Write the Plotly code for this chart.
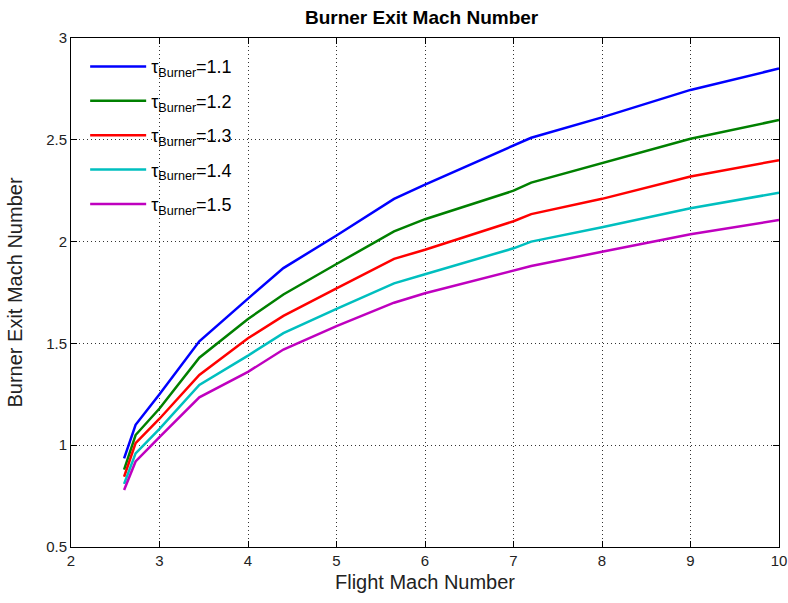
import plotly.graph_objects as go

flight_mach = [2.6, 2.73, 3.0, 3.45, 4.0, 4.4, 5.0, 5.65, 6.0, 7.0, 7.2, 8.0, 9.0, 10.0]

tau_1_1 = [0.935, 1.10, 1.25, 1.51, 1.72, 1.87, 2.03, 2.21, 2.28, 2.47, 2.51, 2.61, 2.745, 2.85]
tau_1_2 = [0.88, 1.05, 1.18, 1.43, 1.62, 1.74, 1.89, 2.05, 2.11, 2.25, 2.29, 2.385, 2.505, 2.597]
tau_1_3 = [0.845, 1.01, 1.13, 1.345, 1.525, 1.635, 1.77, 1.915, 1.96, 2.10, 2.135, 2.21, 2.32, 2.40]
tau_1_4 = [0.81, 0.96, 1.08, 1.296, 1.44, 1.55, 1.67, 1.795, 1.84, 1.967, 2.0, 2.07, 2.164, 2.24]
tau_1_5 = [0.78, 0.92, 1.04, 1.235, 1.36, 1.47, 1.585, 1.70, 1.746, 1.86, 1.88, 1.95, 2.036, 2.106]

series = [tau_1_1, tau_1_2, tau_1_3, tau_1_4, tau_1_5]
labels = ["1.1", "1.2", "1.3", "1.4", "1.5"]
colors = ["#0000FF", "#008000", "#FF0000", "#00BFBF", "#BF00BF"]

x_ticks = [2, 3, 4, 5, 6, 7, 8, 9, 10]
y_ticks = [0.5, 1, 1.5, 2, 2.5, 3]
y_tick_text = ["0.5", "1", "1.5", "2", "2.5", "3"]

FONT = "Liberation Sans, Arial"

fig = go.Figure()
for ys, lab, col in zip(series, labels, colors):
    fig.add_trace(go.Scatter(
        x=flight_mach, y=ys, mode="lines",
        line=dict(color=col, width=2.5),
        name="τ<sub>Burner</sub>=" + lab,
        legendgroup=lab,
    ))

axis_common = dict(
    showline=True, linecolor="black", linewidth=1, mirror="allticks",
    ticks="inside", ticklen=6, tickcolor="black",
    showgrid=True, gridcolor="#333", griddash="1px,3px", gridwidth=1,
    zeroline=False, automargin=False,
    tickfont=dict(family=FONT, size=15, color="#222"),
)

fig.update_layout(
    width=788, height=603,
    margin=dict(l=71, r=9, t=38, b=56),
    paper_bgcolor="white", plot_bgcolor="white",
    title=dict(text="<b>Burner Exit Mach Number</b>", x=0.535, xanchor="center",
               y=0.972, yanchor="middle",
               font=dict(family=FONT, size=19, color="black")),
    xaxis=dict(range=[2, 10], tickvals=x_ticks,
               title=dict(text="Flight Mach Number", standoff=6,
                          font=dict(family=FONT, size=20, color="#222")),
               **axis_common),
    yaxis=dict(range=[0.5, 3], tickvals=y_ticks, ticktext=y_tick_text,
               title=dict(text="Burner Exit Mach Number", standoff=18,
                          font=dict(family=FONT, size=20, color="#222")),
               **axis_common),
    legend=dict(x=0.02, y=0.98, xanchor="left", yanchor="top",
                bgcolor="rgba(255,255,255,0)", borderwidth=0,
                font=dict(family=FONT, size=18, color="black"),
                itemwidth=56, tracegroupgap=8),
    showlegend=True,
)

fig.write_html("out.html")
